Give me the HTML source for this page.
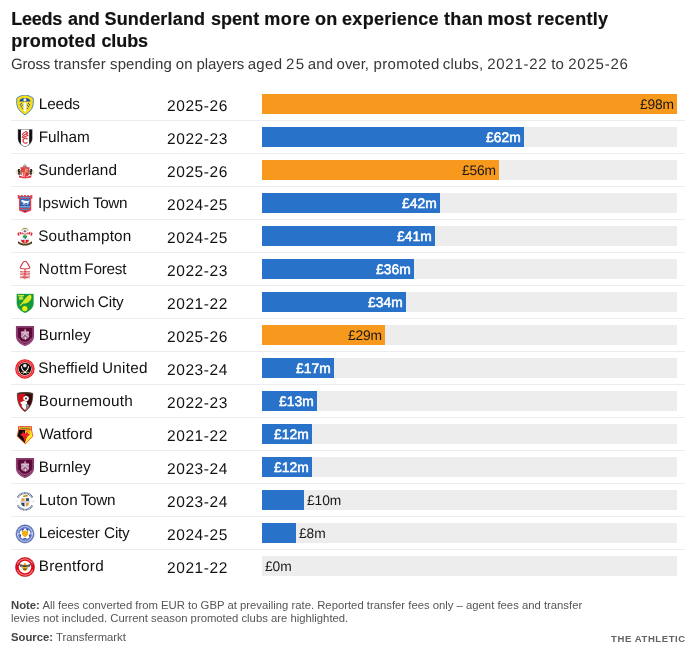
<!DOCTYPE html><html><head><meta charset="utf-8"><title>Chart</title><style>
html,body{margin:0;padding:0;background:#fff;}
body{width:695px;height:653px;overflow:hidden;font-family:"Liberation Sans",sans-serif;color:#121212;position:relative;}
.wrap{position:absolute;left:0;top:0;width:695px;height:653px;}
h1{position:absolute;left:11px;top:8px;margin:0;font-size:18px;line-height:22px;font-weight:bold;width:640px;color:#121212;-webkit-text-stroke:0.2px #121212;}
.sub{position:absolute;left:11px;top:55px;margin:0;font-size:15px;line-height:20px;color:#363636;white-space:nowrap;text-rendering:geometricPrecision;}
.tbl{position:absolute;left:11px;top:88px;width:674px;}
.row{position:relative;height:33px;border-bottom:1px solid #ececec;box-sizing:border-box;}
.row:last-child{border-bottom:none;}
.ic{position:absolute;left:4px;top:7px;width:20px;height:20px;}
.ic svg{display:block;}
.nm{position:absolute;left:28px;top:0;line-height:34px;font-size:15.3px;text-rendering:geometricPrecision;color:#121212;height:32px;width:120px;white-space:nowrap;}
.ss{position:absolute;left:156px;top:1px;line-height:36px;font-size:15.5px;letter-spacing:0.58px;text-rendering:geometricPrecision;color:#121212;white-space:nowrap;}
.trk{position:absolute;left:251px;top:6px;width:415px;height:20px;background:#ededed;}
.bar{position:absolute;left:0;top:0;height:20px;}
.bar.o{background:#f6991d;}
.bar.b{background:#2872c9;}
.lab{position:absolute;font-size:13.8px;line-height:20px;top:1px;white-space:nowrap;text-rendering:geometricPrecision;letter-spacing:-0.1px;}
.lab.in{right:3px;}
.lab.in.b{color:#fff;font-weight:normal;-webkit-text-stroke:0.55px #fff;letter-spacing:0.15px;right:3px;}
.lab.in.o{color:#181818;}
.lab.out{color:#181818;}
.note{position:absolute;left:11px;top:599px;margin:0;font-size:11.3px;line-height:13px;color:#555;width:600px;}
.src{position:absolute;left:11px;top:630px;margin:0;font-size:11.3px;line-height:14px;color:#555;}
.note b,.src b{color:#444;}
.brand{position:absolute;right:9.2px;top:633px;font-size:9.5px;line-height:12px;letter-spacing:0.6px;font-weight:bold;color:#626262;}
.ln{position:absolute;left:0;display:block;white-space:nowrap;}
.w{position:absolute;top:0;white-space:nowrap;}

</style></head><body>
<div class="wrap">
<h1><span class="ln" style="top:0"><span class="w" style="left:0.30px;letter-spacing:-0.259px">Leeds</span> <span class="w" style="left:57.00px;letter-spacing:-0.076px">and</span> <span class="w" style="left:93.52px;letter-spacing:0.169px">Sunderland</span> <span class="w" style="left:199.95px;letter-spacing:0.054px">spent</span> <span class="w" style="left:253.19px;letter-spacing:0.613px">more</span> <span class="w" style="left:304.00px;letter-spacing:0.184px">on</span> <span class="w" style="left:331.08px;letter-spacing:0.271px">experience</span> <span class="w" style="left:432.95px;letter-spacing:0.378px">than</span> <span class="w" style="left:476.39px;letter-spacing:0.33px">most</span> <span class="w" style="left:525.97px;letter-spacing:0.291px">recently</span></span> <span class="ln" style="top:22px"><span class="w" style="left:0.27px;letter-spacing:0.217px">promoted</span> <span class="w" style="left:90.47px;letter-spacing:-0.112px">clubs</span></span></h1>
<p class="sub"><span class="ln" style="top:0"><span class="w" style="left:-0.03px;letter-spacing:-0.204px">Gross</span> <span class="w" style="left:42.94px;letter-spacing:0.13px">transfer</span> <span class="w" style="left:99.00px;letter-spacing:0.13px">spending</span> <span class="w" style="left:164.84px;letter-spacing:-0.025px">on</span> <span class="w" style="left:185.39px;letter-spacing:-0.07px">players</span> <span class="w" style="left:236.63px;letter-spacing:0.397px">aged</span> <span class="w" style="left:275.11px;letter-spacing:1.247px">25</span> <span class="w" style="left:296.83px;letter-spacing:0.145px">and</span> <span class="w" style="left:325.60px;letter-spacing:-0.048px">over,</span> <span class="w" style="left:362.59px;letter-spacing:0.348px">promoted</span> <span class="w" style="left:431.80px;letter-spacing:0.232px">clubs,</span> <span class="w" style="left:476.14px;letter-spacing:0.742px">2021-22</span> <span class="w" style="left:540.37px;letter-spacing:-0.121px">to</span> <span class="w" style="left:557.14px;letter-spacing:0.797px">2025-26</span></span></p>
<div class="tbl">
<div class="row"><div class="ic"><svg width="20" height="20" viewBox="87.1 108.9 435.4 435.4">
<path d="M303,108 C360,112 430,140 482,176 C492,260 490,330 455,400 C420,460 360,505 305,540 C250,505 190,460 155,400 C120,330 118,260 128,176 C178,140 245,112 303,108Z" fill="#ffe000" stroke="#3f7fcb" stroke-width="20"/>
<path d="M303,138 C350,141 410,162 452,192 C460,270 455,330 428,388 C395,440 350,478 305,505 C260,478 215,440 182,388 C155,330 150,270 158,192 C200,162 255,141 303,138Z" fill="#f5dc20"/>
<path d="M180,252 C186,200 240,175 302,175 C364,175 420,200 426,252Z" fill="#1d4f9f"/>
<circle cx="302" cy="214" r="33" fill="#f7f3d0"/>
<rect x="277" y="268" width="52" height="205" rx="24" fill="#fbfbff"/>
<rect x="296" y="290" width="14" height="160" rx="7" fill="#dfe6f5"/>
<g fill="#2b5ca9"><circle cx="227" cy="290" r="15"/><circle cx="205" cy="320" r="15"/><circle cx="246" cy="330" r="15"/><circle cx="226" cy="362" r="15"/><circle cx="250" cy="398" r="14"/>
<circle cx="380" cy="290" r="15"/><circle cx="402" cy="320" r="15"/><circle cx="360" cy="330" r="15"/><circle cx="380" cy="362" r="15"/><circle cx="356" cy="398" r="14"/></g>
</svg></div><div class="nm"><span class="w" style="left:-0.26px;letter-spacing:-0.115px">Leeds</span></div><div class="ss">2025-26</div><div class="trk"><div class="bar o" style="width:415px"><span class="lab in o">£98m</span></div></div></div>
<div class="row"><div class="ic"><svg width="20" height="20" viewBox="87.1 108.9 435.4 435.4">
<path d="M150,138 L465,138 L465,335 C465,430 380,492 306,522 C232,492 150,430 150,335Z" fill="#0f0f0f" stroke="#c9c9c9" stroke-width="7"/>
<path d="M216,143 L396,143 L396,458 C362,490 332,506 306,514 C280,506 250,490 216,458Z" fill="#fff"/>
<g fill="none" stroke="#d9303a" stroke-width="22" stroke-linecap="round"><path d="M330,185 C295,195 262,225 248,250"/><path d="M362,222 C322,236 282,262 248,292"/><path d="M330,190 L362,222"/><path d="M366,272 C330,284 286,300 248,322"/><path d="M330,240 L366,272"/><path d="M352,348 A52,52 0 1 0 350,425" stroke-width="24"/></g>
</svg></div><div class="nm"><span class="w" style="left:-0.26px;letter-spacing:-0.019px">Fulham</span></div><div class="ss">2022-23</div><div class="trk"><div class="bar b" style="width:262px"><span class="lab in b">£62m</span></div></div></div>
<div class="row"><div class="ic"><svg width="20" height="20" viewBox="87.1 108.9 435.4 435.4">
<path d="M300,165 L362,250 L240,250Z" fill="#a6a6a6"/>
<path d="M300,165 L332,208 L270,208Z" fill="#cdcdcd"/>
<path d="M262,228 L340,228" stroke="#c9454c" stroke-width="12"/>
<rect x="205" y="247" width="200" height="32" fill="#d3242e"/>
<path d="M150,292 C168,270 206,283 208,318 L208,402 L160,410 C146,385 168,352 150,332 C143,318 143,302 150,292Z" fill="#221d14"/>
<path d="M460,292 C442,270 404,283 402,318 L402,402 L450,410 C464,385 442,352 460,332 C467,318 467,302 460,292Z" fill="#221d14"/>
<path d="M176,300 L196,330 M180,360 L200,385" stroke="#e9e2cf" stroke-width="9"/>
<path d="M434,300 L414,330 M430,360 L410,385" stroke="#e9e2cf" stroke-width="9"/>
<ellipse cx="130" cy="352" rx="19" ry="38" fill="none" stroke="#c2ac72" stroke-width="9"/>
<ellipse cx="480" cy="352" rx="19" ry="38" fill="none" stroke="#c2ac72" stroke-width="9"/>
<path d="M222,276 L390,276 L390,400 C390,436 340,452 306,458 C272,452 222,436 222,400Z" fill="#e22c37"/>
<rect x="222" y="276" width="80" height="76" fill="#e2482c"/>
<g fill="#fff"><rect x="311" y="276" width="12" height="76"/><rect x="340" y="276" width="16" height="76"/>
<rect x="244" y="362" width="17" height="86"/><rect x="277" y="362" width="17" height="92"/></g>
<rect x="215" y="350" width="182" height="10" fill="#c9a64f"/><rect x="302" y="276" width="8" height="180" fill="#c9a64f"/>
<path d="M172,413 C190,440 250,452 306,452 C360,452 420,440 443,413 L440,462 C390,492 225,492 176,462Z" fill="#e3202d"/>
<path d="M205,462 C255,478 358,478 408,462" fill="none" stroke="#f4a9ae" stroke-width="11" stroke-dasharray="9 6"/>
</svg></div><div class="nm"><span class="w" style="left:-0.89px;letter-spacing:0.063px">Sunderland</span></div><div class="ss">2025-26</div><div class="trk"><div class="bar o" style="width:237px"><span class="lab in o">£56m</span></div></div></div>
<div class="row"><div class="ic"><svg width="20" height="20" viewBox="87.1 108.9 435.4 435.4">
<path d="M147,132 L185,132 L185,150 L215,150 L215,132 L255,132 L255,150 L285,150 L285,132 L325,132 L325,150 L355,150 L355,132 L395,132 L395,150 L425,150 L425,132 L465,132 L465,215 L440,215 L440,468 L306,522 L175,468 L175,215 L147,215Z" fill="#ee3b48"/>
<rect x="192" y="166" width="228" height="38" fill="#3f6db8"/>
<path d="M205,186 L408,186" stroke="#fff" stroke-width="10" stroke-dasharray="12 5" opacity=".75"/>
<rect x="200" y="215" width="212" height="200" fill="#2d6fc2"/>
<rect x="200" y="325" width="212" height="52" fill="#1d4fa2"/>
<path d="M222,252 C235,235 262,238 275,250 L345,262 C375,262 395,250 400,240 C398,275 385,290 375,300 L380,335 L362,335 L355,305 L300,312 L290,335 L270,335 L272,300 C255,292 245,280 240,270 L218,272Z" fill="#fff"/>
<path d="M230,350 L260,332 L290,352 L330,335 L380,352" stroke="#dfe9f7" stroke-width="10" fill="none"/>
<rect x="200" y="376" width="212" height="9" fill="#fff"/>
<path d="M205,400 L408,400" stroke="#fff" stroke-width="10" stroke-dasharray="8 5" opacity=".55"/>
<rect x="200" y="430" width="212" height="26" fill="#3f6db8"/>
<path d="M210,443 L402,443" stroke="#fff" stroke-width="9" stroke-dasharray="10 5" opacity=".6"/>
<path d="M262,474 L350,474 L306,500Z" fill="#1d3f98"/>
</svg></div><div class="nm"><span class="w" style="left:-0.90px;letter-spacing:0.051px">Ipswich</span> <span class="w" style="left:54.05px;letter-spacing:-0.415px">Town</span></div><div class="ss">2024-25</div><div class="trk"><div class="bar b" style="width:178px"><span class="lab in b">£42m</span></div></div></div>
<div class="row"><div class="ic"><svg width="20" height="20" viewBox="87.1 108.9 435.4 435.4">
<path d="M243,185 C238,150 270,138 304,138 C338,138 370,150 365,185" fill="none" stroke="#8f7a28" stroke-width="20"/>
<circle cx="304" cy="198" r="27" fill="#fafafa" stroke="#2a2a2a" stroke-width="7"/>
<path d="M288,190 L320,190 L313,218 L295,218Z" fill="#1c1c1c"/>
<path d="M140,240 L200,214 L225,238 L248,226 L304,262 L360,226 L383,238 L408,214 L468,240 L458,300 L415,288 L395,258 L360,285 L304,300 L248,285 L213,258 L193,288 L150,300Z" fill="#e0202d"/>
<g fill="#fff"><path d="M176,228 L192,220 L198,286 L182,290Z"/><path d="M432,228 L416,220 L410,286 L426,290Z"/><path d="M228,240 L244,232 L250,280 L232,272Z"/><path d="M380,240 L364,232 L358,280 L376,272Z"/><path d="M268,246 L282,254 L282,288 L268,284Z"/><path d="M340,246 L326,254 L326,288 L340,284Z"/></g>
<g fill="none" stroke="#5a1a1e" stroke-width="6" opacity=".7"><path d="M200,214 L213,258"/><path d="M408,214 L395,258"/><path d="M248,226 L255,282"/><path d="M360,226 L353,282"/></g>
<path d="M218,272 L392,272 L392,400 C392,440 345,462 305,470 C265,462 218,440 218,400Z" fill="#fff" stroke="#cfcfcf" stroke-width="6"/>
<path d="M221,384 L389,384 L389,402 C389,438 345,459 305,467 C265,459 221,438 221,402Z" fill="#e2202c"/>
<rect x="221" y="360" width="168" height="24" fill="#cde1f2"/>
<ellipse cx="304" cy="320" rx="50" ry="29" fill="#1ea14a"/>
<rect x="300" y="340" width="20" height="26" fill="#1c1c1c"/>
<path d="M286,268 L322,268 L304,284Z" fill="#e0202d"/>
<path d="M296,392 L318,392 L322,448 L292,448Z" fill="#f0e3c8"/>
<path d="M155,418 C175,440 230,470 305,472 C380,470 435,440 456,418 L460,462 C420,500 360,512 305,512 C250,512 190,500 152,462Z" fill="#35300f"/>
<path d="M178,458 C230,492 380,492 434,458" fill="none" stroke="#b3932b" stroke-width="15" stroke-dasharray="11 6"/>
</svg></div><div class="nm"><span class="w" style="left:-0.89px;letter-spacing:0.222px">Southampton</span></div><div class="ss">2024-25</div><div class="trk"><div class="bar b" style="width:173px"><span class="lab in b">£41m</span></div></div></div>
<div class="row"><div class="ic"><svg width="20" height="20" viewBox="87.1 108.9 435.4 435.4">
<g fill="none" stroke="#d42f3c" stroke-linejoin="round">
<path d="M305,136 C325,136 343,150 356,176 C370,200 380,215 392,240 C402,258 420,268 408,284 C396,300 340,304 305,304 C270,304 214,300 202,284 C190,268 208,258 218,240 C230,215 240,200 254,176 C267,150 285,136 305,136Z" stroke-width="23"/>
<path d="M305,300 L305,528" stroke-width="20"/>
<path d="M200,362 C230,345 260,380 305,362 C350,345 380,380 412,362" stroke-width="19"/>
<path d="M200,396 C230,379 260,414 305,396 C350,379 380,414 412,396" stroke-width="19"/>
<path d="M200,430 C230,413 260,448 305,430 C350,413 380,448 412,430" stroke-width="19"/>
<path d="M204,486 L412,486" stroke-width="44" stroke-dasharray="20 10"/>
</g>
</svg></div><div class="nm"><span class="w" style="left:-0.26px;letter-spacing:0.521px">Nottm</span> <span class="w" style="left:45.29px;letter-spacing:-0.225px">Forest</span></div><div class="ss">2022-23</div><div class="trk"><div class="bar b" style="width:152px"><span class="lab in b">£36m</span></div></div></div>
<div class="row"><div class="ic"><svg width="20" height="20" viewBox="87.1 108.9 435.4 435.4">
<path d="M127,130 L490,130 L490,330 C490,440 385,510 306,542 C228,510 127,440 127,330Z" fill="#139a3b" stroke="#3faa55" stroke-width="8"/>
<rect x="152" y="152" width="132" height="24" fill="#cfe23a"/>
<rect x="176" y="176" width="92" height="78" fill="#8cc63e"/>
<path d="M150,215 L205,205 L250,172 L238,215 L272,252 L222,238 L172,268 L192,228Z" fill="#d8e83a"/>
<path d="M437,160 C457,200 442,262 392,302 C352,336 302,346 266,336 L200,394 L185,379 L250,318 C280,258 340,188 392,158 C412,148 430,150 437,160Z" fill="#f3ee1c"/>
<path d="M292,322 C335,300 378,262 408,215 M285,296 C322,268 355,228 388,186 M330,330 C362,318 400,290 425,250" stroke="#7dbf2c" stroke-width="8" fill="none"/>
<circle cx="300" cy="447" r="57" fill="#f7ef0f"/>
<path d="M268,470 C290,492 320,490 338,468" stroke="#cfdc1f" stroke-width="9" fill="none"/>
</svg></div><div class="nm"><span class="w" style="left:-0.26px;letter-spacing:0.129px">Norwich</span> <span class="w" style="left:58.71px;letter-spacing:-0.098px">City</span></div><div class="ss">2021-22</div><div class="trk"><div class="bar b" style="width:144px"><span class="lab in b">£34m</span></div></div></div>
<div class="row"><div class="ic"><svg width="20" height="20" viewBox="87.1 108.9 435.4 435.4">
<path d="M107,110 L502,110 L502,320 C502,440 402,514 305,548 C208,514 107,440 107,320Z" fill="#8a3f70"/>
<path d="M150,148 L462,148 L462,320 C462,410 382,470 305,498 C228,470 150,410 150,320Z" fill="#600a3b"/>
<path d="M128,340 C140,430 225,498 305,528 C385,498 470,430 482,340" fill="none" stroke="#a3668f" stroke-width="14" stroke-dasharray="9 8"/>
<path d="M307,160 L328,222 L288,222Z" fill="#e3d0dc"/>
<path d="M218,240 C250,222 362,222 392,240 L392,335 C392,372 340,395 306,404 C272,395 218,372 218,335Z" fill="#b58aa9"/>
<rect x="224" y="230" width="164" height="34" fill="#e8d9e3"/>
<path d="M245,232 L245,262 M285,232 L285,262 M328,232 L328,262 M368,232 L368,262" stroke="#9a6088" stroke-width="9"/>
<path d="M306,268 L236,345 M306,268 L378,345" stroke="#eadbe5" stroke-width="20" fill="none"/>
<path d="M306,312 L262,362 M306,312 L352,362" stroke="#6a1848" stroke-width="12" fill="none"/>
<ellipse cx="316" cy="375" rx="13" ry="28" fill="#eadbe5"/>
<path d="M172,378 C200,440 250,462 306,466 C360,462 412,440 440,378" fill="none" stroke="#a26c92" stroke-width="20"/>
</svg></div><div class="nm"><span class="w" style="left:-0.26px;letter-spacing:0.002px">Burnley</span></div><div class="ss">2025-26</div><div class="trk"><div class="bar o" style="width:123px"><span class="lab in o">£29m</span></div></div></div>
<div class="row"><div class="ic"><svg width="20" height="20" viewBox="87.1 108.9 435.4 435.4">
<circle cx="303" cy="325" r="212" fill="#e8151f"/>
<circle cx="303" cy="325" r="178" fill="none" stroke="#fff" stroke-width="24" stroke-dasharray="11 10" opacity=".6"/>
<circle cx="303" cy="325" r="146" fill="#f4f4f4"/>
<circle cx="303" cy="325" r="135" fill="#0d0d0d"/>
<circle cx="302" cy="252" r="42" fill="#cfcfcf"/>
<circle cx="302" cy="248" r="22" fill="#f0f0f0"/>
<path d="M226,272 C235,330 280,385 335,412" fill="none" stroke="#fff" stroke-width="24" stroke-linecap="round"/>
<path d="M382,272 C372,330 328,385 272,412" fill="none" stroke="#fff" stroke-width="24" stroke-linecap="round"/>
<path d="M218,402 L262,396" stroke="#e6d02b" stroke-width="18"/><path d="M390,402 L346,396" stroke="#e6d02b" stroke-width="18"/>
</svg></div><div class="nm"><span class="w" style="left:-0.89px;letter-spacing:0.156px">Sheffield</span> <span class="w" style="left:63.02px;letter-spacing:0.265px">United</span></div><div class="ss">2023-24</div><div class="trk"><div class="bar b" style="width:72px"><span class="lab in b">£17m</span></div></div></div>
<div class="row"><div class="ic"><svg width="20" height="20" viewBox="87.1 108.9 435.4 435.4">
<path d="M139,140 C200,114 405,114 472,140 C478,300 440,440 302,534 C172,440 132,300 139,140Z" fill="#d3101b" stroke="#453d33" stroke-width="18"/>
<path d="M300,128 C365,124 430,130 463,146 C468,300 434,430 302,522Z" fill="#4a080d"/>
<path d="M335,150 L352,150 L352,470 L335,485Z M382,150 L400,152 L400,420 L382,445Z M428,156 L444,160 L438,340 L428,370Z" fill="#120606"/>
<path d="M146,150 C200,128 400,128 466,150" fill="none" stroke="#3d3426" stroke-width="26"/>
<path d="M198,340 L285,300 L350,322 L352,372 L322,385 L332,440 L312,505 C275,480 245,450 232,420 L238,385Z" fill="#fff"/>
<path d="M322,378 L354,366 L404,402 C392,440 352,488 316,510 L334,440Z" fill="#8c8c8c"/>
<circle cx="328" cy="248" r="60" fill="#fff"/>
<circle cx="326" cy="250" r="20" fill="#1a1a1a"/>
<path d="M285,212 L302,200 M358,204 L374,220 M378,272 L368,292 M298,296 L284,278" stroke="#333" stroke-width="12"/>
</svg></div><div class="nm"><span class="w" style="left:-0.26px;letter-spacing:0.212px">Bournemouth</span></div><div class="ss">2022-23</div><div class="trk"><div class="bar b" style="width:55px"><span class="lab in b">£13m</span></div></div></div>
<div class="row"><div class="ic"><svg width="20" height="20" viewBox="87.1 108.9 435.4 435.4">
<path d="M165,215 L447,215 L476,355 L311,520 L134,355Z" fill="#fbee23" stroke="#ee2f38" stroke-width="16" stroke-linejoin="round"/>
<path d="M170,220 L308,220 L308,508 L144,352Z" fill="#0d0d0d"/>
<path d="M320,222 L405,222 L425,310 L365,262Z" fill="#f5a51e"/>
<path d="M306,300 L282,278 L262,236 L246,292 L214,300 L204,326 L250,352 L276,402 L306,482 L336,402 L362,352 L408,326 L398,300 L366,292 L350,236 L330,278Z" fill="#e8212b"/>
<rect x="155" y="135" width="300" height="84" fill="#ee2f38"/>
<rect x="176" y="155" width="262" height="48" fill="#f4e51a"/>
<path d="M196,180 L422,180" stroke="#34320e" stroke-width="22" stroke-dasharray="17 5" opacity=".85"/>
</svg></div><div class="nm"><span class="w" style="left:0.13px;letter-spacing:0.074px">Watford</span></div><div class="ss">2021-22</div><div class="trk"><div class="bar b" style="width:50px"><span class="lab in b">£12m</span></div></div></div>
<div class="row"><div class="ic"><svg width="20" height="20" viewBox="87.1 108.9 435.4 435.4">
<path d="M107,110 L502,110 L502,320 C502,440 402,514 305,548 C208,514 107,440 107,320Z" fill="#8a3f70"/>
<path d="M150,148 L462,148 L462,320 C462,410 382,470 305,498 C228,470 150,410 150,320Z" fill="#600a3b"/>
<path d="M128,340 C140,430 225,498 305,528 C385,498 470,430 482,340" fill="none" stroke="#a3668f" stroke-width="14" stroke-dasharray="9 8"/>
<path d="M307,160 L328,222 L288,222Z" fill="#e3d0dc"/>
<path d="M218,240 C250,222 362,222 392,240 L392,335 C392,372 340,395 306,404 C272,395 218,372 218,335Z" fill="#b58aa9"/>
<rect x="224" y="230" width="164" height="34" fill="#e8d9e3"/>
<path d="M245,232 L245,262 M285,232 L285,262 M328,232 L328,262 M368,232 L368,262" stroke="#9a6088" stroke-width="9"/>
<path d="M306,268 L236,345 M306,268 L378,345" stroke="#eadbe5" stroke-width="20" fill="none"/>
<path d="M306,312 L262,362 M306,312 L352,362" stroke="#6a1848" stroke-width="12" fill="none"/>
<ellipse cx="316" cy="375" rx="13" ry="28" fill="#eadbe5"/>
<path d="M172,378 C200,440 250,462 306,466 C360,462 412,440 440,378" fill="none" stroke="#a26c92" stroke-width="20"/>
</svg></div><div class="nm"><span class="w" style="left:-0.26px;letter-spacing:0.002px">Burnley</span></div><div class="ss">2023-24</div><div class="trk"><div class="bar b" style="width:50px"><span class="lab in b">£12m</span></div></div></div>
<div class="row"><div class="ic"><svg width="20" height="20" viewBox="87.1 108.9 435.4 435.4">
<g fill="none" stroke="#2e4572" stroke-width="44" opacity=".8">
<path d="M146,248 A182,182 0 0 1 464,248" stroke-dasharray="22 11"/>
<path d="M146,422 A182,182 0 0 0 464,422" stroke-dasharray="20 10"/>
</g>
<rect x="98" y="324" width="50" height="16" fill="#c3cde3"/><rect x="462" y="324" width="50" height="16" fill="#c3cde3"/>
<path d="M215,258 L400,258 L400,400 C400,440 340,462 308,470 C276,462 215,440 215,400Z" fill="#f2f2f2"/>
<rect x="226" y="266" width="68" height="60" fill="#f0a233"/>
<rect x="324" y="266" width="66" height="60" fill="#1f3b6e"/>
<path d="M226,366 L292,366 L292,448 C265,440 226,425 226,400Z" fill="#1b335f"/>
<path d="M324,366 L388,366 L388,400 C388,425 350,440 324,448Z" fill="#ec9a2b"/>
<rect x="200" y="330" width="212" height="30" fill="#c9c9c9"/>
<circle cx="345" cy="300" r="14" fill="#8aa04a"/><circle cx="258" cy="400" r="14" fill="#3f7f5a"/>
<ellipse cx="312" cy="216" rx="56" ry="26" fill="#f2ca35"/>
<path d="M270,228 C300,215 335,215 362,205" stroke="#2e4572" stroke-width="12" fill="none"/>
</svg></div><div class="nm"><span class="w" style="left:-0.26px;letter-spacing:0.194px">Luton</span> <span class="w" style="left:41.76px;letter-spacing:-0.321px">Town</span></div><div class="ss">2023-24</div><div class="trk"><div class="bar b" style="width:42px"></div><span class="lab out b" style="left:45px">£10m</span></div></div>
<div class="row"><div class="ic"><svg width="20" height="20" viewBox="87.1 108.9 435.4 435.4">
<circle cx="305" cy="325" r="198" fill="#5a72be" stroke="#3f58ab" stroke-width="10"/>
<circle cx="305" cy="325" r="160" fill="none" stroke="#fff" stroke-width="28" stroke-dasharray="15 9" opacity=".8"/>
<circle cx="305" cy="325" r="120" fill="#fff"/>
<circle cx="155" cy="325" r="15" fill="#fff"/><circle cx="455" cy="325" r="15" fill="#fff"/>
<g fill="#2e45a0"><ellipse cx="256" cy="232" rx="28" ry="16" transform="rotate(-35 256 232)"/><ellipse cx="354" cy="232" rx="28" ry="16" transform="rotate(35 354 232)"/><ellipse cx="203" cy="358" rx="15" ry="32" transform="rotate(-15 203 358)"/><ellipse cx="407" cy="358" rx="15" ry="32" transform="rotate(15 407 358)"/><ellipse cx="303" cy="428" rx="42" ry="13"/></g>
<path d="M240,262 L270,272 L340,272 L370,262 L376,320 L345,368 L305,398 L265,368 L234,320Z" fill="#f2b20f"/>
<circle cx="305" cy="312" r="62" fill="#f2b20f"/>
<path d="M236,256 L262,266 M374,256 L348,266" stroke="#4a4a4a" stroke-width="8"/>
</svg></div><div class="nm"><span class="w" style="left:-0.26px;letter-spacing:-0.129px">Leicester</span> <span class="w" style="left:65.12px;letter-spacing:-0.277px">City</span></div><div class="ss">2024-25</div><div class="trk"><div class="bar b" style="width:34px"></div><span class="lab out b" style="left:37px">£8m</span></div></div>
<div class="row"><div class="ic"><svg width="20" height="20" viewBox="87.1 108.9 435.4 435.4">
<circle cx="305" cy="328" r="212" fill="#e30b18" stroke="#8a2a2e" stroke-width="7"/>
<g fill="none" stroke="#fff" stroke-width="24" opacity=".8"><path d="M140.6,268 A175,175 0 0 1 469.4,268" stroke-dasharray="11 8"/><path d="M140.6,388 A175,175 0 0 0 469.4,388" stroke-dasharray="11 8"/></g>
<circle cx="305" cy="328" r="136" fill="#fff"/>
<path d="M168,256 L282,288 L292,322 L200,322Z" fill="#555"/><path d="M440,256 L328,288 L318,322 L408,322Z" fill="#555"/><path d="M215,330 L285,325 L240,375Z" fill="#bdbdbd"/><path d="M395,330 L325,325 L370,375Z" fill="#bdbdbd"/>
<path d="M285,330 L225,400 M325,330 L385,400" stroke="#c9c9c9" stroke-width="12"/>
<ellipse cx="303" cy="340" rx="42" ry="78" fill="#f2b50d"/>
<rect x="262" y="292" width="82" height="28" fill="#1a1a1a"/>
<rect x="262" y="362" width="82" height="22" fill="#3a2a10"/>
<circle cx="303" cy="262" r="22" fill="#e0a510"/>
</svg></div><div class="nm"><span class="w" style="left:-0.26px;letter-spacing:0.252px">Brentford</span></div><div class="ss">2021-22</div><div class="trk"><div class="bar b" style="width:0px"></div><span class="lab out b" style="left:3px">£0m</span></div></div>
</div>
<p class="note"><b>Note:</b> All fees converted from EUR to GBP at prevailing rate. Reported transfer fees only – agent fees and transfer levies not included. Current season promoted clubs are highlighted.</p>
<p class="src"><b>Source:</b> Transfermarkt</p>
<div class="brand">THE ATHLETIC</div>
</div></body></html>
